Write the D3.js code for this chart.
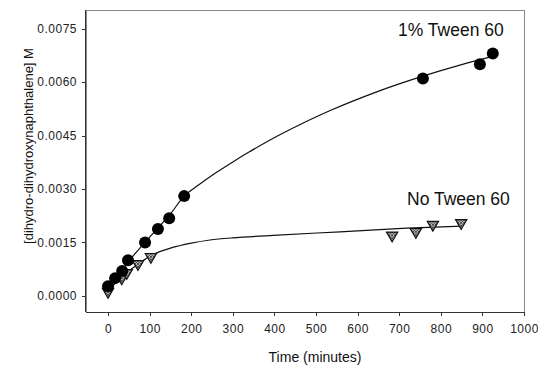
<!DOCTYPE html>
<meta charset="utf-8">
<html lang="en">
<head>
    <title>Dihydro-dihydroxynaphthalene vs time</title>
    <script src="https://d3js.org/d3.v7.min.js"></script>
    <style>
        body { margin: 0; background: #fff; }
        svg { display: block; }
        .axis text { font: 12px Arial, "Liberation Sans", sans-serif; fill: #222; }
        .axis path, .axis line { stroke: #333; stroke-width: 1; shape-rendering: crispEdges; }
    </style>
</head>
<body>
<svg width="538" height="365"></svg>
<script>
// Tick values
var xTicks = [0, 100, 200, 300, 400, 500, 600, 700, 800, 900, 1000];
var yTicks = [0, 0.0015, 0.0030, 0.0045, 0.0060, 0.0075];

// 1% Tween 60 (circles)
var tweenTime = [0, 17, 34, 48, 89, 120, 147, 183, 757, 894, 925];
var tweenConc = [0.00027, 0.0005, 0.0007, 0.001, 0.0015, 0.00188, 0.00218, 0.0028, 0.0061, 0.0065, 0.0068];
// fitted curve
var tweenFitTime = [0, 50, 100, 150, 183, 220, 260, 300, 341, 413, 534, 654, 755, 850, 925];
var tweenFitConc = [0.0002, 0.00098, 0.00165, 0.0023, 0.0028, 0.00313, 0.00346, 0.00376, 0.00405, 0.00452, 0.0052, 0.00576, 0.00616, 0.00649, 0.00672];

// No Tween 60 (triangles)
var noTweenTime = [0, 33, 45, 72, 103, 683, 740, 781, 849];
var noTweenConc = [0.00012, 0.0005, 0.00065, 0.0009, 0.0011, 0.0017, 0.0018, 0.002, 0.00205];
var noTweenFitTime = [0, 40, 75, 108, 150, 200, 245, 300, 397, 558, 718, 851];
var noTweenFitConc = [0.00015, 0.0006, 0.00092, 0.00116, 0.00134, 0.00148, 0.00157, 0.00163, 0.0017, 0.0018, 0.0019, 0.00196];

var svg = d3.select("svg");
var plotL = 86, plotR = 524, plotT = 10, plotB = 312;

var x = d3.scaleLinear().domain([-53, 1000]).range([plotL, plotR]);
var y = d3.scaleLinear().domain([-0.00045, 0.00802]).range([plotB, plotT]);

// hatch pattern for the triangles
var pat = svg.append("defs").append("pattern")
    .attr("id", "hatch")
    .attr("patternUnits", "userSpaceOnUse")
    .attr("width", 3).attr("height", 3);
pat.append("rect").attr("width", 3).attr("height", 3).attr("fill", "#ccc");
pat.append("path").attr("d", "M0,0L3,3M3,0L0,3").attr("stroke", "#333").attr("stroke-width", 0.9);

// frame
svg.append("rect")
    .attr("x", plotL).attr("y", plotT)
    .attr("width", plotR - plotL).attr("height", plotB - plotT)
    .attr("fill", "none").attr("stroke", "#888").attr("stroke-width", 1)
    .attr("shape-rendering", "crispEdges");

// axes
svg.append("g")
    .attr("class", "axis")
    .attr("transform", "translate(0," + plotB + ")")
    .call(d3.axisBottom(x).tickValues(xTicks).tickFormat(d3.format("d")).tickSize(4).tickPadding(8).tickSizeOuter(0))
    .select(".domain").attr("d", "M" + plotL + ",0.5H" + plotR);

svg.append("g")
    .attr("class", "axis")
    .attr("transform", "translate(" + plotL + ",0)")
    .call(d3.axisLeft(y).tickValues(yTicks).tickFormat(d3.format(".4f")).tickSize(4).tickPadding(5).tickSizeOuter(0))
    .select(".domain").attr("d", "M-0.5," + plotT + "V" + plotB);

svg.selectAll(".axis text").style("letter-spacing", "0.5px");

// axis titles
svg.append("text")
    .attr("x", 315).attr("y", 362)
    .attr("text-anchor", "middle")
    .style("font", "14px Arial, 'Liberation Sans', sans-serif")
    .style("fill", "#111")
    .text("Time (minutes)");

svg.append("text")
    .attr("transform", "translate(33,146) rotate(-90)")
    .attr("text-anchor", "middle")
    .style("font", "13px Arial, 'Liberation Sans', sans-serif")
    .style("fill", "#111")
    .text("[dihydro-dihydroxynaphthalene] M");

// fit curves
var line = d3.line()
    .x(function(d) { return x(d[0]); })
    .y(function(d) { return y(d[1]); })
    .curve(d3.curveCatmullRom.alpha(0.5));

svg.append("path")
    .datum(tweenFitTime.map(function(t, i) { return [t, tweenFitConc[i]]; }))
    .attr("d", line)
    .attr("fill", "none").attr("stroke", "#111").attr("stroke-width", 1.2);

svg.append("path")
    .datum(noTweenFitTime.map(function(t, i) { return [t, noTweenFitConc[i]]; }))
    .attr("d", line)
    .attr("fill", "none").attr("stroke", "#111").attr("stroke-width", 1.2);

// triangles
var tri = d3.symbol().type(d3.symbolTriangle).size(55);
svg.append("g")
    .selectAll("path")
    .data(noTweenTime.map(function(t, i) { return [t, noTweenConc[i]]; }))
    .enter().append("path")
    .attr("d", tri)
    .attr("transform", function(d) { return "translate(" + x(d[0]) + "," + y(d[1]) + ") rotate(180)"; })
    .attr("fill", "url(#hatch)")
    .attr("stroke", "#111").attr("stroke-width", 1.2);

// circles
svg.append("g")
    .selectAll("circle")
    .data(tweenTime.map(function(t, i) { return [t, tweenConc[i]]; }))
    .enter().append("circle")
    .attr("cx", function(d) { return x(d[0]); })
    .attr("cy", function(d) { return y(d[1]); })
    .attr("r", 6)
    .attr("fill", "#000");

// series labels
svg.append("text")
    .attr("x", 398).attr("y", 36)
    .style("font", "17.5px Arial, 'Liberation Sans', sans-serif")
    .style("fill", "#111")
    .text("1% Tween 60");

svg.append("text")
    .attr("x", 407).attr("y", 205)
    .style("font", "17.5px Arial, 'Liberation Sans', sans-serif")
    .style("fill", "#111")
    .text("No Tween 60");
</script>
</body>
</html>
